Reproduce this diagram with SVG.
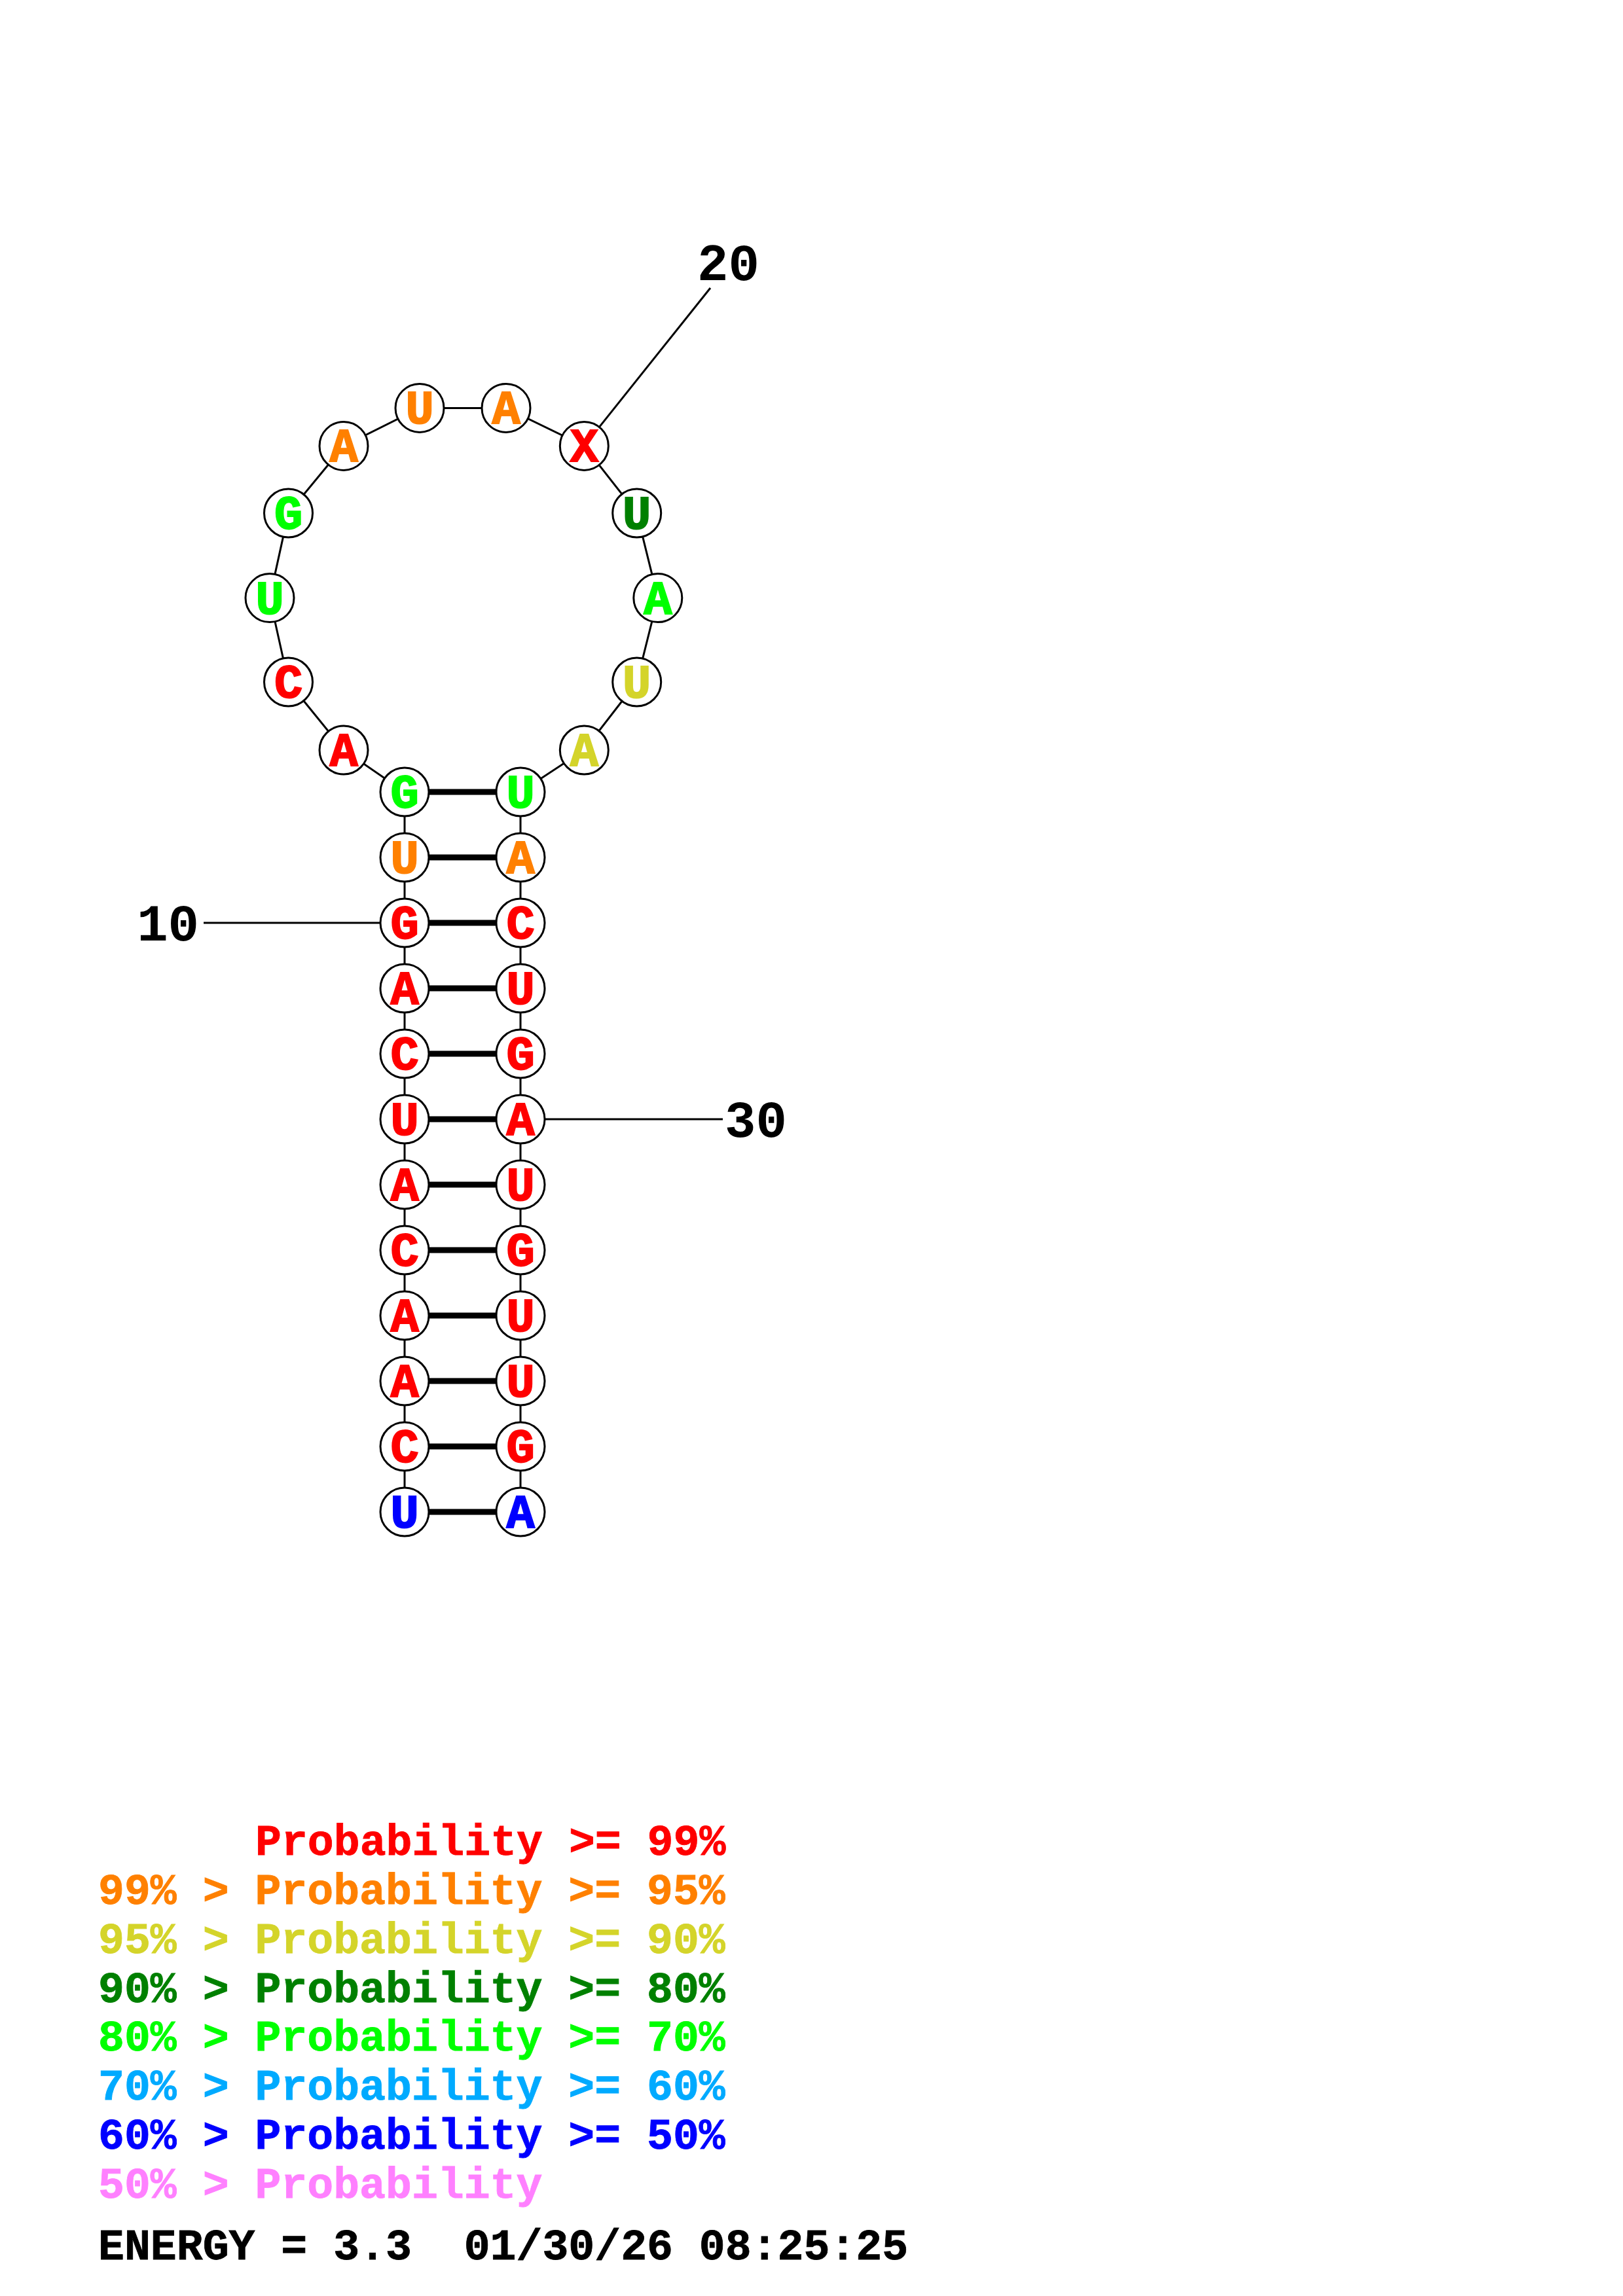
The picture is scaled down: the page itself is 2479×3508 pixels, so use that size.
<svg xmlns="http://www.w3.org/2000/svg" width="2479" height="3508" viewBox="0 0 2479 3508">
<style>
.bb{stroke:#000;stroke-width:3;fill:none}
.bp{stroke:#000;stroke-width:9;fill:none}
.nc{fill:#fff;stroke:#000;stroke-width:3}
.nt{font-family:"Liberation Mono","Courier New",monospace;font-weight:bold;font-size:72px;text-anchor:middle;stroke-width:2}
.lab{font-family:"Liberation Mono","Courier New",monospace;font-weight:bold;font-size:79px;fill:#000}
.leg{font-family:"Liberation Mono","Courier New",monospace;font-weight:bold;font-size:66.5px;white-space:pre}
.r{fill:#FF0000;stroke:#FF0000}.o{fill:#FF8000;stroke:#FF8000}.y{fill:#D4D42A;stroke:#D4D42A}.dg{fill:#008000;stroke:#008000}.g{fill:#00FF00;stroke:#00FF00}.lb{fill:#00AAFF;stroke:#00AAFF}.b{fill:#0000FF;stroke:#0000FF}.p{fill:#FF80FF;stroke:#FF80FF}.k{fill:#000;stroke:#000}
.leg{stroke-width:0.8}
</style>
<rect width="2479" height="3508" fill="#fff"/>
<g id="connectors">
<polyline class="bb" points="618,2310 618,1210 525,1146 440.5,1042 412,913.6 440.5,784 525,681.4 641,623.4 773,623.4 892.3,681.4 972.7,784 1004.8,913.6 972.7,1042 892.3,1146 795,1210 795,2310"/>
<line class="bp" x1="618" y1="1210" x2="795" y2="1210"/>
<line class="bp" x1="618" y1="1310" x2="795" y2="1310"/>
<line class="bp" x1="618" y1="1410" x2="795" y2="1410"/>
<line class="bp" x1="618" y1="1510" x2="795" y2="1510"/>
<line class="bp" x1="618" y1="1610" x2="795" y2="1610"/>
<line class="bp" x1="618" y1="1710" x2="795" y2="1710"/>
<line class="bp" x1="618" y1="1810" x2="795" y2="1810"/>
<line class="bp" x1="618" y1="1910" x2="795" y2="1910"/>
<line class="bp" x1="618" y1="2010" x2="795" y2="2010"/>
<line class="bp" x1="618" y1="2110" x2="795" y2="2110"/>
<line class="bp" x1="618" y1="2210" x2="795" y2="2210"/>
<line class="bp" x1="618" y1="2310" x2="795" y2="2310"/>
<line class="bb" x1="311" y1="1410" x2="618" y2="1410"/>
<line class="bb" x1="795" y1="1710" x2="1104" y2="1710"/>
<line class="bb" x1="892.3" y1="681.4" x2="1085" y2="440"/>
</g>
<g id="labels">
<text class="lab" x="304" y="1437" text-anchor="end">10</text>
<text class="lab" x="1065" y="428">20</text>
<text class="lab" x="1107" y="1737">30</text>
</g>
<g id="n1"><circle class="nc" cx="618" cy="2310" r="37"/><text class="nt b" x="618" y="2334">U</text></g>
<g id="n2"><circle class="nc" cx="618" cy="2210" r="37"/><text class="nt r" x="618" y="2234">C</text></g>
<g id="n3"><circle class="nc" cx="618" cy="2110" r="37"/><text class="nt r" x="618" y="2134">A</text></g>
<g id="n4"><circle class="nc" cx="618" cy="2010" r="37"/><text class="nt r" x="618" y="2034">A</text></g>
<g id="n5"><circle class="nc" cx="618" cy="1910" r="37"/><text class="nt r" x="618" y="1934">C</text></g>
<g id="n6"><circle class="nc" cx="618" cy="1810" r="37"/><text class="nt r" x="618" y="1834">A</text></g>
<g id="n7"><circle class="nc" cx="618" cy="1710" r="37"/><text class="nt r" x="618" y="1734">U</text></g>
<g id="n8"><circle class="nc" cx="618" cy="1610" r="37"/><text class="nt r" x="618" y="1634">C</text></g>
<g id="n9"><circle class="nc" cx="618" cy="1510" r="37"/><text class="nt r" x="618" y="1534">A</text></g>
<g id="n10"><circle class="nc" cx="618" cy="1410" r="37"/><text class="nt r" x="618" y="1434">G</text></g>
<g id="n11"><circle class="nc" cx="618" cy="1310" r="37"/><text class="nt o" x="618" y="1334">U</text></g>
<g id="n12"><circle class="nc" cx="618" cy="1210" r="37"/><text class="nt g" x="618" y="1234">G</text></g>
<g id="n13"><circle class="nc" cx="525" cy="1146" r="37"/><text class="nt r" x="525" y="1170">A</text></g>
<g id="n14"><circle class="nc" cx="440.5" cy="1042" r="37"/><text class="nt r" x="440.5" y="1066">C</text></g>
<g id="n15"><circle class="nc" cx="412" cy="913.6" r="37"/><text class="nt g" x="412" y="937.6">U</text></g>
<g id="n16"><circle class="nc" cx="440.5" cy="784" r="37"/><text class="nt g" x="440.5" y="808">G</text></g>
<g id="n17"><circle class="nc" cx="525" cy="681.4" r="37"/><text class="nt o" x="525" y="705.4">A</text></g>
<g id="n18"><circle class="nc" cx="641" cy="623.4" r="37"/><text class="nt o" x="641" y="647.4">U</text></g>
<g id="n19"><circle class="nc" cx="773" cy="623.4" r="37"/><text class="nt o" x="773" y="647.4">A</text></g>
<g id="n20"><circle class="nc" cx="892.3" cy="681.4" r="37"/><text class="nt r" x="892.3" y="705.4">X</text></g>
<g id="n21"><circle class="nc" cx="972.7" cy="784" r="37"/><text class="nt dg" x="972.7" y="808">U</text></g>
<g id="n22"><circle class="nc" cx="1004.8" cy="913.6" r="37"/><text class="nt g" x="1004.8" y="937.6">A</text></g>
<g id="n23"><circle class="nc" cx="972.7" cy="1042" r="37"/><text class="nt y" x="972.7" y="1066">U</text></g>
<g id="n24"><circle class="nc" cx="892.3" cy="1146" r="37"/><text class="nt y" x="892.3" y="1170">A</text></g>
<g id="n25"><circle class="nc" cx="795" cy="1210" r="37"/><text class="nt g" x="795" y="1234">U</text></g>
<g id="n26"><circle class="nc" cx="795" cy="1310" r="37"/><text class="nt o" x="795" y="1334">A</text></g>
<g id="n27"><circle class="nc" cx="795" cy="1410" r="37"/><text class="nt r" x="795" y="1434">C</text></g>
<g id="n28"><circle class="nc" cx="795" cy="1510" r="37"/><text class="nt r" x="795" y="1534">U</text></g>
<g id="n29"><circle class="nc" cx="795" cy="1610" r="37"/><text class="nt r" x="795" y="1634">G</text></g>
<g id="n30"><circle class="nc" cx="795" cy="1710" r="37"/><text class="nt r" x="795" y="1734">A</text></g>
<g id="n31"><circle class="nc" cx="795" cy="1810" r="37"/><text class="nt r" x="795" y="1834">U</text></g>
<g id="n32"><circle class="nc" cx="795" cy="1910" r="37"/><text class="nt r" x="795" y="1934">G</text></g>
<g id="n33"><circle class="nc" cx="795" cy="2010" r="37"/><text class="nt r" x="795" y="2034">U</text></g>
<g id="n34"><circle class="nc" cx="795" cy="2110" r="37"/><text class="nt r" x="795" y="2134">U</text></g>
<g id="n35"><circle class="nc" cx="795" cy="2210" r="37"/><text class="nt r" x="795" y="2234">G</text></g>
<g id="n36"><circle class="nc" cx="795" cy="2310" r="37"/><text class="nt b" x="795" y="2334">A</text></g>
<g id="legend">
<text class="leg r" x="390" y="2834">Probability &gt;= 99%</text>
<text class="leg o" x="150" y="2909">99% &gt; Probability &gt;= 95%</text>
<text class="leg y" x="150" y="2984">95% &gt; Probability &gt;= 90%</text>
<text class="leg dg" x="150" y="3059">90% &gt; Probability &gt;= 80%</text>
<text class="leg g" x="150" y="3133">80% &gt; Probability &gt;= 70%</text>
<text class="leg lb" x="150" y="3208">70% &gt; Probability &gt;= 60%</text>
<text class="leg b" x="150" y="3283">60% &gt; Probability &gt;= 50%</text>
<text class="leg p" x="150" y="3358">50% &gt; Probability</text>
<text class="leg k" x="150" y="3452" xml:space="preserve">ENERGY = 3.3  01/30/26 08:25:25</text>
</g>
</svg>
